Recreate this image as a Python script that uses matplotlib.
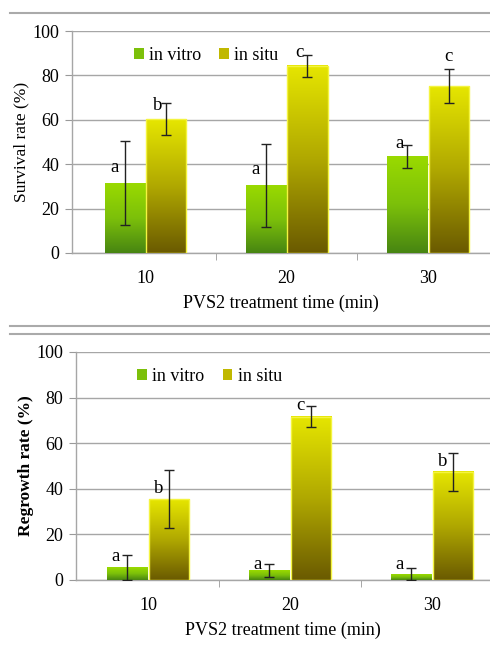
import numpy as np
import matplotlib
matplotlib.use("Agg")
import matplotlib.pyplot as plt
from matplotlib.colors import LinearSegmentedColormap
from matplotlib.patches import Rectangle
from matplotlib.lines import Line2D

plt.rcParams['font.family'] = ['Liberation Serif', 'DejaVu Serif']

# data
categories = ["10", "20", "30"]
series = ["in vitro", "in situ"]

surv_vitro = [31.4, 30.4, 43.4]
surv_vitro_err = [19.0, 18.7, 5.3]
surv_situ = [60.2, 84.3, 75.1]
surv_situ_err = [7.2, 5.0, 7.6]
surv_letters_vitro = ["a", "a", "a"]
surv_letters_situ = ["b", "c", "c"]

regr_vitro = [5.6, 4.1, 2.3]
regr_vitro_err = [5.4, 3.0, 3.1]
regr_situ = [35.5, 71.6, 47.5]
regr_situ_err = [12.6, 4.7, 8.4]
regr_letters_vitro = ["a", "a", "a"]
regr_letters_situ = ["b", "c", "b"]

green_cmap = LinearSegmentedColormap.from_list("g", ["#478512", "#7cc00a", "#9ada00"])
yellow_cmap = LinearSegmentedColormap.from_list("y", ["#6a5a00", "#b0a800", "#e6e600"])

bw = 0.285
grad = np.linspace(0, 1, 256).reshape(-1, 1)


def grad_bar(ax, x, h, cmap, edge):
    ax.imshow(grad, extent=(x - bw / 2, x + bw / 2, 0, h), origin="lower",
              aspect="auto", cmap=cmap, zorder=3)
    if edge:
        ax.add_patch(Rectangle((x - bw / 2, 0), bw, h, fill=False,
                               ec=edge, lw=1.0, zorder=4))


def panel(ax, vitro, verr, situ, serr, lv, ls, lpos_v, lpos_s, ylab, bold):
    x = np.arange(len(categories))
    xv = x - bw / 2 - 0.005
    xs = x + bw / 2 + 0.005
    for i in range(len(x)):
        grad_bar(ax, xv[i], vitro[i], green_cmap, None)
        grad_bar(ax, xs[i], situ[i], yellow_cmap, "#f4f440")
    v = np.array(vitro); ve = np.array(verr)
    s = np.array(situ); se = np.array(serr)
    ax.errorbar(xv, v, yerr=[np.minimum(ve, v), ve], fmt="none", ecolor="#222222",
                elinewidth=1, capsize=3.5, capthick=1, zorder=5)
    ax.errorbar(xs, s, yerr=[np.minimum(se, s), se], fmt="none", ecolor="#222222",
                elinewidth=1, capsize=3.5, capthick=1, zorder=5)
    for i in range(len(x)):
        ax.text(xv[i] + lpos_v[i][0], lpos_v[i][1], lv[i], ha="center", va="center",
                fontsize=13.5, zorder=6)
        ax.text(xs[i] + lpos_s[i][0], lpos_s[i][1], ls[i], ha="center", va="center",
                fontsize=13.5, zorder=6)

    ax.set_ylim(0, 100)
    ax.set_yticks(range(0, 101, 20))
    ax.set_xticks(x)
    ax.set_xticklabels(categories)
    ax.set_xticks([0.5, 1.5], minor=True)
    ax.tick_params(axis="x", which="major", length=0, pad=12, labelsize=13)
    ax.tick_params(axis="x", which="minor", length=5, color="#999999", direction="out")
    ax.tick_params(axis="y", length=5, color="#999999", labelsize=13, pad=4)
    ax.grid(axis="y", color="#a6a6a6", lw=1.0, zorder=0)
    ax.set_axisbelow(True)
    for sp in ["top", "right"]:
        ax.spines[sp].set_visible(False)
    for sp in ["left", "bottom"]:
        ax.spines[sp].set_color("#a6a6a6")
        ax.spines[sp].set_linewidth(1.0)
    ax.set_xlabel("PVS2 treatment time (min)", fontsize=13, labelpad=6)
    ax.set_ylabel(ylab, fontsize=12.5, fontweight="bold" if bold else "normal", labelpad=2)

    handles = [Rectangle((0, 0), 1, 1, fc="#7cc00a"), Rectangle((0, 0), 1, 1, fc="#c0b800")]
    ax.legend(handles, series, loc="upper left", bbox_to_anchor=(0.13, 0.96), ncol=2,
              frameon=False, fontsize=13, handlelength=0.55, handleheight=0.55,
              handletextpad=0.3, columnspacing=1.0, borderaxespad=0)


fig = plt.figure(figsize=(4.9, 6.5), dpi=100)

ax1 = fig.add_axes([0.147, 0.6108, 0.853, 0.3415])
ax1.set_xlim(-0.52, 2.44)
panel(ax1, surv_vitro, surv_vitro_err, surv_situ, surv_situ_err,
      surv_letters_vitro, surv_letters_situ,
      [(-0.07, 38.5), (-0.07, 37.6), (-0.05, 49.4)],
      [(-0.06, 66.6), (-0.06, 90.5), (0.0, 88.3)],
      "Survival rate (%)", False)

ax2 = fig.add_axes([0.155, 0.1077, 0.845, 0.3508])
ax2.set_xlim(-0.507, 2.41)
panel(ax2, regr_vitro, regr_vitro_err, regr_situ, regr_situ_err,
      regr_letters_vitro, regr_letters_situ,
      [(-0.08, 10.1), (-0.08, 7.0), (-0.08, 7.0)],
      [(-0.07, 40.2), (-0.07, 76.5), (-0.07, 51.9)],
      "Regrowth rate (%)", True)

# separator lines
for yy in [1 - 13 / 650, 1 - 326 / 650, 1 - 334 / 650]:
    fig.add_artist(Line2D([10 / 490, 1.0], [yy, yy], color="#aaaaaa", lw=1.5,
                          transform=fig.transFigure))

fig.savefig("out.png", dpi=100)
